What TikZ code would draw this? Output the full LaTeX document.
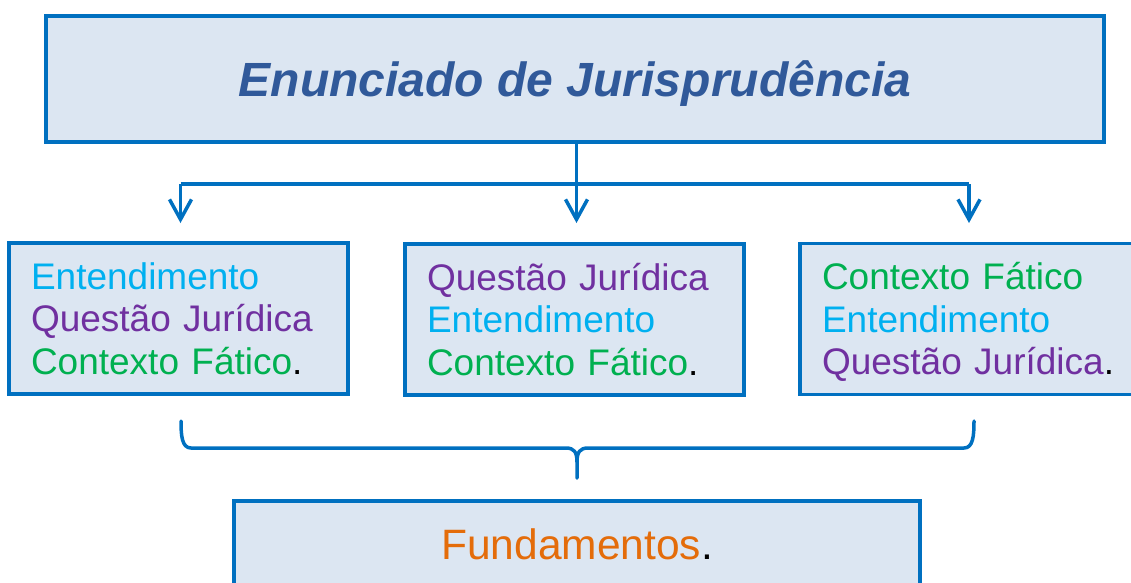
\documentclass[tikz,border=0pt]{standalone}
\usepackage{fontspec}
\setmainfont{Liberation Sans}
\usetikzlibrary{arrows.meta}
\definecolor{bordc}{HTML}{0070C0}
\definecolor{fillc}{HTML}{DCE6F2}
\definecolor{titc}{HTML}{30599A}
\definecolor{entc}{HTML}{00B0F0}
\definecolor{quec}{HTML}{7030A0}
\definecolor{conc}{HTML}{00B050}
\definecolor{func}{HTML}{E46C0A}
\tikzset{
  boxc/.style={draw=bordc, fill=fillc, line width=3.5pt, rectangle, inner sep=0pt},
  midbox/.style={boxc, minimum height=151pt, inner xsep=22pt, inner ysep=0pt,
     align=left, text height=26.5pt, text depth=85pt,
     font=\fontsize{37}{42.5}\selectfont},
  conn/.style={draw=bordc, line width=3.5pt},
  arr/.style={conn, -{Straight Barb[length=20pt,width=22pt,line width=3.5pt]}}
}
\newcommand{\ent}{\textcolor{entc}{Entendimento}}
\newcommand{\que}{\textcolor{quec}{Questão Jurídica}}
\newcommand{\con}{\textcolor{conc}{Contexto Fático}}
\begin{document}
\begin{tikzpicture}[x=1pt, y=-1pt]
\useasboundingbox (0,0) rectangle (1131,582);
% top box
\node[boxc, minimum width=1058pt, minimum height=126pt, text height=34.4pt, text depth=0pt,
  font=\fontsize{48}{56}\selectfont\bfseries\itshape, text=titc] (top) at (575,79) {Enunciado de Jurisprudência};
% middle boxes
\node[midbox, text width=295pt] (b1) at (178.5,318.5)
  {\mbox{\ent}\\\mbox{\que}\\\mbox{\con.}};
\node[midbox, text width=295pt] (b2) at (574.5,319.5)
  {\mbox{\que}\\\mbox{\ent}\\\mbox{\con.}};
\node[midbox, text width=296pt] (b3) at (970,319)
  {\mbox{\con}\\\mbox{\ent}\\\mbox{\que.}};
% bottom box
\node[boxc, minimum width=686pt, minimum height=116pt, text height=0pt, text depth=0pt,
  font=\fontsize{42.5}{50}\selectfont] (fund) at (577,559) {\textcolor{func}{Fundamentos}.};
% connectors
\coordinate (split) at (576.5,184);
\coordinate (a1) at (180.5,223);
\coordinate (a2) at (576.5,223);
\coordinate (a3) at (969,223);
\draw[conn] (top.south -| split) -- (split);
\draw[conn] (a1 |- split) -- (a3 |- split);
\draw[arr] (a1 |- split) -- (a1);
\draw[arr] (split) -- (a2);
\draw[arr] (a3 |- split) -- (a3);
% brace
\coordinate (bl) at (181,421);
\coordinate (br) at (974,421);
\coordinate (btip) at (577,478);
\draw[conn, line cap=round, line join=round]
  (bl) .. controls (181,436) and (182,448) .. (191,448)
  -- (566,448) .. controls (574,448) and (577,452) .. (577,462) -- (btip);
\draw[conn, line cap=round, line join=round]
  (br) .. controls (974,436) and (973,448) .. (964,448)
  -- (588,448) .. controls (580,448) and (577,452) .. (577,462);
\end{tikzpicture}
\end{document}
